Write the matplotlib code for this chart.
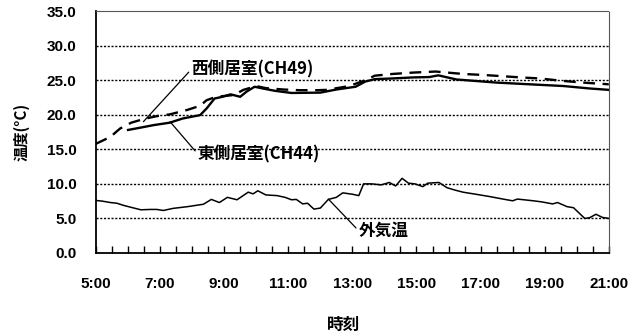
import matplotlib
matplotlib.use('Agg')
import matplotlib.pyplot as plt
from matplotlib.ticker import MultipleLocator, FixedLocator, FuncFormatter

# 外気温 (hours, deg C)
out_t = [5.0, 5.2, 5.45, 5.65, 5.85, 6.1, 6.4, 6.7, 6.9, 7.1, 7.4, 7.85, 8.35, 8.6, 8.85,
         9.1, 9.4, 9.75, 9.9, 10.05, 10.3, 10.65, 10.9, 11.1, 11.25, 11.45, 11.6, 11.8, 12.0,
         12.25, 12.5, 12.7, 13.0, 13.2, 13.35, 13.6, 13.9, 14.15, 14.35, 14.55, 14.75, 14.95,
         15.2, 15.35, 15.7, 15.95, 16.2, 16.45, 16.85, 17.3, 17.7, 18.0, 18.15, 18.65, 18.9,
         19.25, 19.4, 19.7, 19.9, 20.25, 20.4, 20.6, 20.8, 21.0]
out_v = [7.6, 7.5, 7.3, 7.2, 6.9, 6.6, 6.25, 6.3, 6.3, 6.15, 6.45, 6.7, 7.05, 7.75, 7.3,
         8.05, 7.7, 8.8, 8.55, 9.0, 8.4, 8.3, 8.05, 7.7, 7.75, 7.1, 7.2, 6.35, 6.5,
         7.75, 8.05, 8.7, 8.5, 8.3, 10.0, 10.0, 9.85, 10.2, 9.7, 10.8, 10.1, 10.0,
         9.6, 10.1, 10.2, 9.45, 9.1, 8.8, 8.5, 8.15, 7.8, 7.55, 7.8, 7.55, 7.4,
         7.1, 7.3, 6.7, 6.55, 5.0, 5.1, 5.6, 5.15, 5.0]

# 西側居室 (CH49)
west_t = [5.0, 5.45, 5.75, 6.1, 6.5, 6.9, 7.3, 7.85, 8.25, 8.45, 8.75, 9.3, 9.6, 10.0,
          10.3, 10.85, 11.35, 11.9, 12.2, 12.9, 13.35, 13.7, 14.25, 14.9, 15.6, 16.45,
          17.1, 17.6, 18.25, 18.85, 19.55, 20.2, 20.85, 21.0]
west_v = [15.8, 16.8, 18.0, 18.85, 19.4, 19.8, 20.05, 20.7, 21.3, 22.1, 22.6, 22.85, 23.6, 24.15,
          23.85, 23.65, 23.55, 23.55, 23.6, 24.15, 24.9, 25.65, 25.9, 26.1, 26.25, 25.9,
          25.75, 25.6, 25.4, 25.25, 24.9, 24.65, 24.45, 24.4]

# 東側居室 (CH44)
east_t = [6.0, 6.35, 6.8, 7.3, 7.7, 8.25, 8.45, 8.7, 8.95, 9.2, 9.5, 9.7, 9.95, 10.2,
          10.6, 11.1, 12.0, 12.5, 13.1, 13.4, 13.7, 14.25, 14.9, 15.4, 15.68, 16.25,
          17.5, 18.55, 19.6, 20.4, 21.0]
east_v = [17.8, 18.1, 18.5, 18.85, 19.45, 19.95, 20.9, 22.35, 22.6, 22.95, 22.6, 23.35, 24.05, 23.8,
          23.45, 23.15, 23.2, 23.65, 24.05, 24.8, 25.15, 25.25, 25.4, 25.45, 25.7, 25.1,
          24.65, 24.4, 24.15, 23.8, 23.6]

x_ticks = [5, 7, 9, 11, 13, 15, 17, 19, 21]

jp = ['Noto Sans CJK JP', 'DejaVu Sans']
plt.rcParams['font.family'] = ['Liberation Sans', 'Noto Sans CJK JP', 'DejaVu Sans']

fig = plt.figure(figsize=(6.37, 3.35), dpi=100)
ax = fig.add_axes([0.1507, 0.2448, 0.805, 0.7222])

# grid lines
for g in [5, 10, 15, 20, 25, 30]:
    ax.axhline(g, color='k', lw=1.0, ls=(0, (1.5, 1.2)), zorder=1)

ax.plot(out_t, out_v, color='k', lw=1.1, zorder=3)
ax.plot(west_t, west_v, color='k', lw=1.7, ls=(0, (5, 3.2)), zorder=3)
ax.plot(east_t, east_v, color='k', lw=1.7, zorder=4)

ax.set_xlim(5, 21)
ax.set_ylim(0, 35)
ax.xaxis.set_major_locator(FixedLocator(x_ticks))
ax.xaxis.set_minor_locator(MultipleLocator(0.5))
ax.xaxis.set_major_formatter(FuncFormatter(lambda v, p: '%d:00' % round(v)))
ax.yaxis.set_major_locator(MultipleLocator(5))
ax.yaxis.set_major_formatter(FuncFormatter(lambda v, p: '%.1f' % v))
ax.tick_params(axis='x', which='both', direction='in', length=5, width=1, pad=17, labelsize=11)
ax.tick_params(axis='y', which='both', length=0, pad=14, labelsize=11)
for lab in ax.get_xticklabels() + ax.get_yticklabels():
    lab.set_fontweight('bold')

for s in ['left', 'bottom']:
    ax.spines[s].set_linewidth(1.3)
for s in ['top', 'right']:
    ax.spines[s].set_linestyle((0, (1, 1)))
    ax.spines[s].set_linewidth(0.8)
    ax.spines[s].set_color('#555555')

ax.set_ylabel('温度(°C)', family=jp, fontsize=11, fontweight='bold')
ax.yaxis.set_label_coords(-0.13, 0.5)
fig.text(0.54, 0.03, '時刻', family=jp, fontsize=12, fontweight='bold', ha='center', va='center')

line_kw = dict(arrowstyle='-', color='k', lw=0.9, shrinkA=0, shrinkB=0, relpos=(0, 0.5))
ax.annotate('西側居室(CH49)', xy=(6.48, 19.0), xytext=(7.98, 26.6), family=jp, fontsize=12,
            fontweight='bold', va='center', ha='left', arrowprops=line_kw)
ax.annotate('東側居室(CH44)', xy=(7.31, 19.0), xytext=(8.18, 14.3), family=jp, fontsize=12,
            fontweight='bold', va='center', ha='left', arrowprops=line_kw)
ax.annotate('外気温', xy=(12.25, 7.8), xytext=(13.2, 3.2), family=jp, fontsize=12,
            fontweight='bold', va='center', ha='left', arrowprops=line_kw)

fig.savefig('out.png', dpi=100)
